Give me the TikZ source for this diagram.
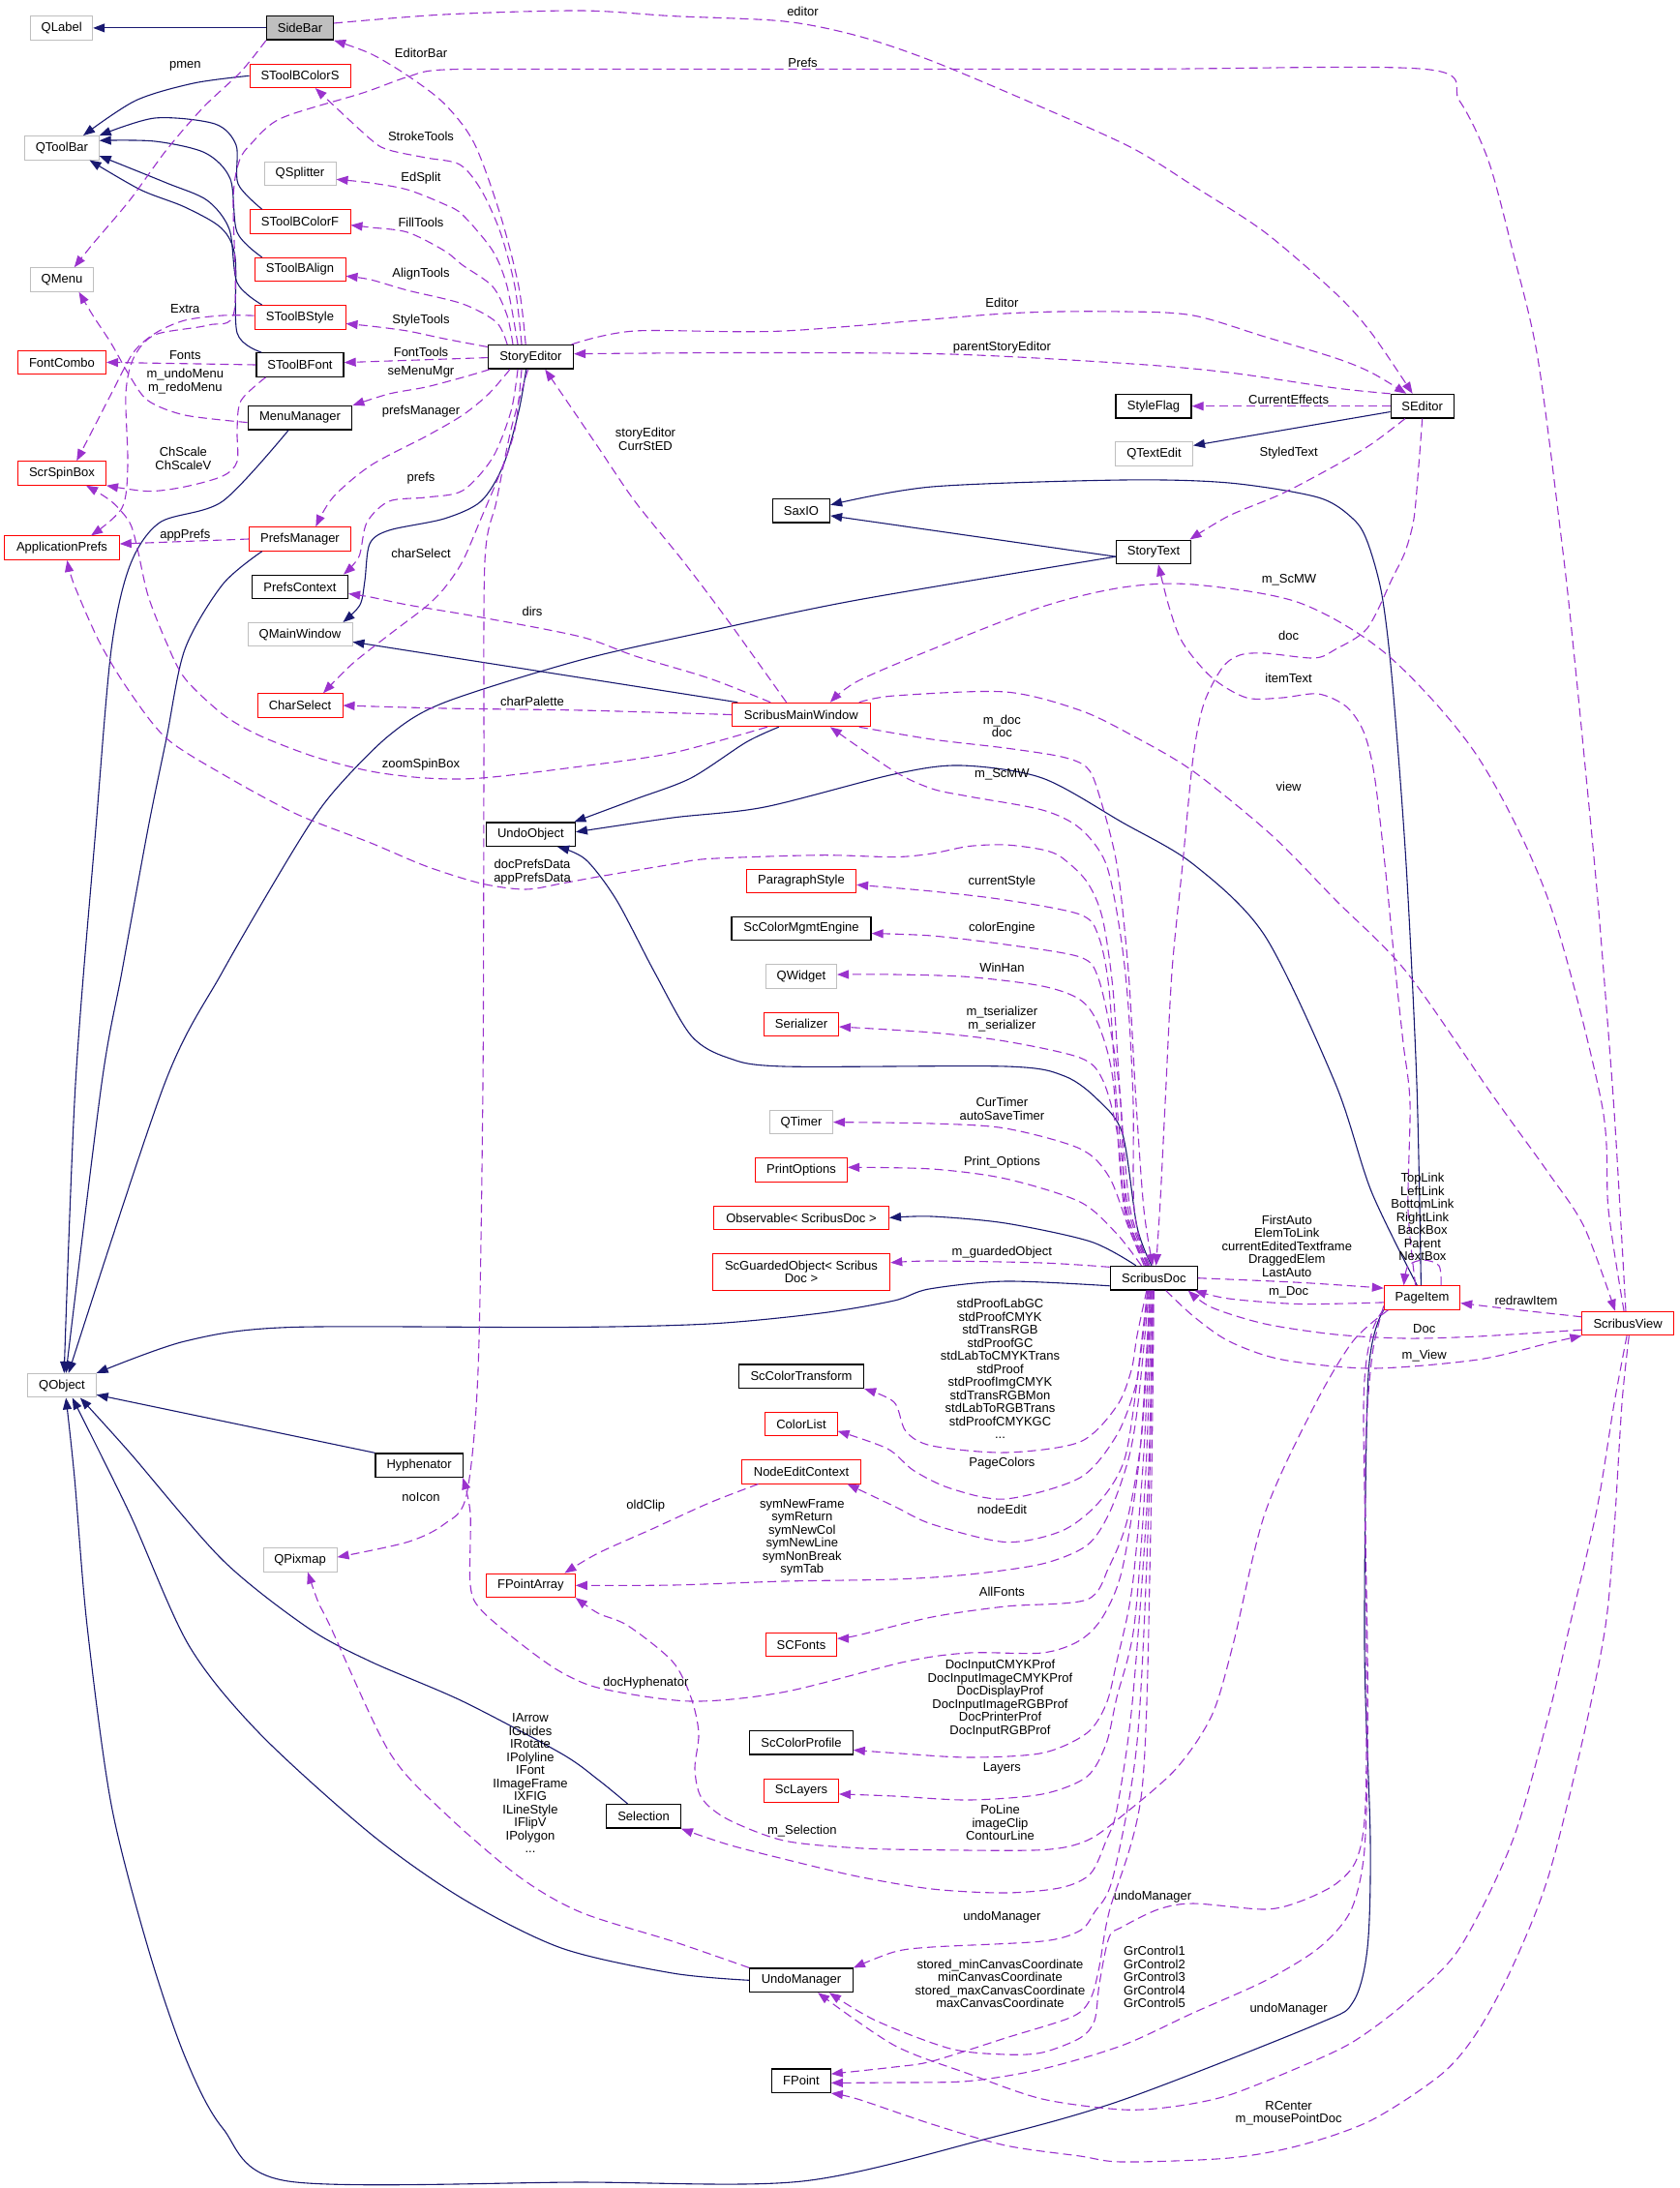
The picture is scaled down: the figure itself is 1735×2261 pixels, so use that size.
\documentclass[tikz,border=0pt]{standalone}
\usepackage{fontspec}
\setmainfont{Liberation Sans}
\usetikzlibrary{arrows.meta}
\definecolor{navyc}{HTML}{191970}
\definecolor{purpc}{HTML}{9A32CD}
\definecolor{boxred}{HTML}{FF0000}
\definecolor{boxgray}{HTML}{BFBFBF}
\newcommand{\dfont}{\fontsize{13pt}{13.5pt}\selectfont}
\tikzset{
  cls/.style={rectangle, draw, line width=1pt, minimum height=24.5pt, inner sep=0pt, font=\dfont},
  redc/.style={cls, draw=boxred},
  grayc/.style={cls, draw=boxgray},
  blkc/.style={cls, draw=black, line width=1.3pt},
  sidec/.style={cls, draw=black, fill=boxgray, line width=1.3pt},
  inh/.style={draw=navyc, line width=1.1pt, -{Triangle[length=12pt,width=9pt]}},
  dep/.style={draw=purpc, line width=1.1pt, dash pattern=on 9pt off 5pt, -{Triangle[length=12pt,width=9pt]}},
  lab/.style={font=\dfont, align=center, inner sep=0pt},
}
\begin{document}
\begin{tikzpicture}[x=1pt,y=-1pt]
\fill[white] (0,0) rectangle (1735,2261);
\path[use as bounding box] (0,0) rectangle (1735,2261);
% ---------------- nodes
\node[grayc, minimum width=64] (QLabel) at (63.7,28.9) {QLabel};
\node[sidec, minimum width=69] (SideBar) at (310,28.9) {SideBar};
\node[redc, minimum width=104] (SToolBColorS) at (310,78.3) {SToolBColorS};
\node[grayc, minimum width=76.6] (QToolBar) at (63.9,152.8) {QToolBar};
\node[grayc, minimum width=74] (QSplitter) at (310,179.4) {QSplitter};
\node[redc, minimum width=104] (SToolBColorF) at (310,229) {SToolBColorF};
\node[redc, minimum width=94] (SToolBAlign) at (310,278.6) {SToolBAlign};
\node[grayc, minimum width=65] (QMenu) at (64,289) {QMenu};
\node[redc, minimum width=94] (SToolBStyle) at (310,327.8) {SToolBStyle};
\node[redc, minimum width=91] (FontCombo) at (64,374.4) {FontCombo};
\node[blkc, minimum width=90] (SToolBFont) at (310,377) {SToolBFont};
\node[blkc, minimum width=88] (StoryEditor) at (548.4,368.8) {StoryEditor};
\node[blkc, minimum width=107.6] (MenuManager) at (310,431.8) {MenuManager};
\node[redc, minimum width=91] (ScrSpinBox) at (64,489) {ScrSpinBox};
\node[redc, minimum width=118.6] (ApplicationPrefs) at (64,566.2) {ApplicationPrefs};
\node[redc, minimum width=104.8] (PrefsManager) at (310,557) {PrefsManager};
\node[blkc, minimum width=99] (PrefsContext) at (310,606.5) {PrefsContext};
\node[grayc, minimum width=108] (QMainWindow) at (310,655.7) {QMainWindow};
\node[redc, minimum width=88] (CharSelect) at (310,729) {CharSelect};
\node[blkc, minimum width=91.8] (UndoObject) at (548.4,862.2) {UndoObject};
\node[blkc, minimum width=59] (SaxIO) at (828,527.6) {SaxIO};
\node[blkc, minimum width=78] (StyleFlag) at (1192,419.7) {StyleFlag};
\node[grayc, minimum width=80] (QTextEdit) at (1192.5,469) {QTextEdit};
\node[blkc, minimum width=65] (SEditor) at (1469.7,419.7) {SEditor};
\node[blkc, minimum width=77] (StoryText) at (1192,570.4) {StoryText};
\node[redc, minimum width=142.8] (ScribusMainWindow) at (827.8,738.5) {ScribusMainWindow};
\node[redc, minimum width=113.2] (ParagraphStyle) at (828,910.3) {ParagraphStyle};
\node[blkc, minimum width=144] (ScColorMgmtEngine) at (828,959.5) {ScColorMgmtEngine};
\node[grayc, minimum width=73] (QWidget) at (828,1009) {QWidget};
\node[redc, minimum width=77] (Serializer) at (828,1058.3) {Serializer};
\node[grayc, minimum width=65] (QTimer) at (828,1159.6) {QTimer};
\node[redc, minimum width=95] (PrintOptions) at (828,1208.8) {PrintOptions};
\node[redc, minimum width=181] (Observable) at (828,1258.4) {Observable< ScribusDoc >};
\node[redc, minimum width=183.5, minimum height=38, align=center] (ScGuarded) at (828,1314.5) {ScGuardedObject< Scribus\\Doc >};
\node[blkc, minimum width=90] (ScribusDoc) at (1192.3,1320.7) {ScribusDoc};
\node[blkc, minimum width=129] (ScColorTransform) at (828,1422.2) {ScColorTransform};
\node[redc, minimum width=74.2] (ColorList) at (828,1471.5) {ColorList};
\node[redc, minimum width=122.4] (NodeEditContext) at (828,1520.8) {NodeEditContext};
\node[redc, minimum width=91.8] (FPointArray) at (548.4,1638.3) {FPointArray};
\node[redc, minimum width=73] (SCFonts) at (828,1699.6) {SCFonts};
\node[grayc, minimum width=70.4] (QObject) at (64,1431.7) {QObject};
\node[blkc, minimum width=90.4] (Hyphenator) at (433.2,1514.2) {Hyphenator};
\node[grayc, minimum width=76] (QPixmap) at (310,1611.8) {QPixmap};
\node[blkc, minimum width=106.4] (ScColorProfile) at (828,1800.8) {ScColorProfile};
\node[redc, minimum width=77] (ScLayers) at (828,1850.5) {ScLayers};
\node[blkc, minimum width=76.5] (Selection) at (665,1876.8) {Selection};
\node[blkc, minimum width=106.4] (UndoManager) at (828,2046.3) {UndoManager};
\node[blkc, minimum width=60.4] (FPoint) at (828,2150.2) {FPoint};
\node[redc, minimum width=78.4] (PageItem) at (1469.5,1341) {PageItem};
\node[redc, minimum width=94.6] (ScribusView) at (1682.2,1367.5) {ScribusView};
% ---------------- inheritance
\draw[inh] (SideBar.west) -- (QLabel.east);
\draw[inh] plot[smooth] coordinates {(SToolBColorS.west) (200,86) (140,104) (QToolBar.30)};
\draw[inh] plot[smooth] coordinates {(SToolBColorF.162) (246,190) (244,150) (222,128) (160,122) (QToolBar.north east)};
\draw[inh] plot[smooth] coordinates {(SToolBAlign.162) (245,240) (238,185) (212,158) (160,146) (QToolBar.11)};
\draw[inh] plot[smooth] coordinates {(SToolBStyle.162) (245,292) (237,237) (214,207) (172,189) (QToolBar.-12)};
\draw[inh] plot[smooth] coordinates {(SToolBFont.162) (245,344) (243,266) (229,236) (191,214) (145,196) (QToolBar.-24)};
\draw[inh] plot[smooth] coordinates {(MenuManager.227) (230,518) (165,540) (134,585) (115,671) (99,856) (78,1120) (QObject.80)};
\draw[inh] plot[smooth] coordinates {(PrefsManager.198) (230,604) (191,671) (172,763) (153,856) (126,1004) (105,1120) (QObject.72)};
\draw[inh] plot[smooth] coordinates {(StoryText.187) (886,620) (733,652) (600,682) (459,726) (402,760) (344,819) (306,874) (230,1004) (170,1120) (QObject.62)};
\draw[inh] plot[smooth] coordinates {(ScribusDoc.190) (1039,1324) (960,1332) (924,1344) (848,1357) (733,1368) (580,1371.6) (298,1371.6) (191,1386) (QObject.north east)};
\draw[inh] (Hyphenator.north west) -- (QObject.-15);
\draw[inh] plot[smooth] coordinates {(Selection.142) (618,1839) (580,1812) (478,1758) (383,1717) (318,1682) (230,1612) (134,1501) (QObject.-34)};
\draw[inh] plot[smooth] coordinates {(UndoManager.west) (695,2039) (580,2013) (478,1962) (383,1895) (268,1791) (195,1700) (134,1564) (QObject.-50)};
\draw[inh] plot[smooth] coordinates {(PageItem.south west) (1414,1420) (1410,1700) (1416,1902) (1413,2013) (1398,2069) (1360,2092) (1160,2170) (1020,2210) (829,2254) (600,2255) (298,2254) (230,2199) (191,2125) (153,2013) (115,1865) (90,1680) (77,1527) (QObject.-72)};
\draw[inh] plot[smooth] coordinates {(ScribusDoc.100) (1175,1268) (1160,1172) (1135,1137) (1100,1112) (1040,1102) (810,1102) (752,1093) (714,1070) (676,1004) (637,930) (605,888) (UndoObject.-25)};
\draw[inh] plot[smooth] coordinates {(ScribusDoc.145) (1127,1283) (1039,1264) (963,1257) (Observable.east)};
\draw[inh] (ScribusMainWindow.169) -- (QMainWindow.-8);
\draw[inh] plot[smooth] coordinates {(StoryEditor.250) (536,425) (520,481) (497,518) (459,536) (402,548) (382,562) (377,600) (372,625) (QMainWindow.16)};
\draw[inh] plot[smooth] coordinates {(ScribusMainWindow.209) (771,767) (714,804) (656,826) (UndoObject.16)};
\draw[inh] plot[smooth] coordinates {(PageItem.112) (1417,1231) (1380,1120) (1307,967) (1233,893) (1160,850) (1077,804) (993,791) (924,800) (790,834) (695,845) (UndoObject.3)};
\draw[inh] (StoryText.187) -- (SaxIO.-10);
\draw[inh] plot[smooth] coordinates {(PageItem.95) (1464,1120) (1453,893) (1439,708) (1428,615) (1413,560) (1398,536) (1362,514) (1270,499) (1160,496) (963,503) (SaxIO.11)};
\draw[inh] (SEditor.190) -- (QTextEdit.12);
% ---------------- usage
\draw[dep] plot[smooth] coordinates {(SideBar.8) (459,15) (600,11) (695,16.6) (810,22) (886,37) (963,63) (1077,111) (1170,153) (1233,192) (1307,240) (1380,303) (1417,344) (SEditor.128)};
\draw[dep] plot[smooth] coordinates {(SideBar.south west) (249,74) (210,111) (172,155) (134,207) (96,252) (QMenu.45)};
\draw[dep] plot[smooth] coordinates {(StoryEditor.112) (536,296) (517,222) (490,148) (459,107) (421,78) (383,55.5) (SideBar.south east)};
\draw[dep] plot[smooth] coordinates {(ScribusView.100) (1673,1231) (1666,1120) (1651,930) (1637,782) (1626,671) (1615,570) (1589,370) (1563,259) (1538,166) (1508,104) (1472,71.4) (1160,71.4) (600,71.4) (459,72) (421,79.5) (375,96) (291,122) (260,148) (247,167) (241,207) (242,322) (215,336) (160,346) (138,370) (130,407) (132,481) (126,525) (ApplicationPrefs.23)};
\draw[dep] plot[smooth] coordinates {(SToolBStyle.178) (230,326) (191,331) (161,344) (138,364) (116,405) (100,436) (ScrSpinBox.40)};
\draw[dep] plot[smooth] coordinates {(StoryEditor.126) (532,296) (517,240) (497,196) (475,170) (440,163) (402,155) (383,144) (SToolBColorS.-39)};
\draw[dep] plot[smooth] coordinates {(StoryEditor.136) (524,296) (509,259) (478,222) (459,211) (421,196) (383,189) (QSplitter.-9)};
\draw[dep] plot[smooth] coordinates {(StoryEditor.145) (524,326) (509,296) (478,274) (459,259) (421,240) (383,235) (SToolBColorF.-4)};
\draw[dep] plot[smooth] coordinates {(StoryEditor.152) (513,333) (478,314) (421,300) (383,289) (SToolBAlign.-8)};
\draw[dep] plot[smooth] coordinates {(StoryEditor.167) (459,350) (421,342) (383,337) (SToolBStyle.-8)};
\draw[dep] (StoryEditor.181) -- (SToolBFont.3);
\draw[dep] plot[smooth] coordinates {(StoryEditor.197) (478,390) (440,400) (402,407) (MenuManager.north east)};
\draw[dep] plot[smooth] coordinates {(StoryEditor.211) (505,407) (478,429) (440,451) (383,481) (344,514) (PrefsManager.38)};
\draw[dep] plot[smooth] coordinates {(StoryEditor.224) (528,425) (509,473) (478,507) (440,514) (402,518) (379,540) (371,575) (PrefsContext.16)};
\draw[dep] plot[smooth] coordinates {(StoryEditor.234) (532,444) (517,488) (497,536) (478,580) (459,608) (440,627) (402,656) (364,686) (CharSelect.28)};
\draw[dep] plot[smooth] coordinates {(ScribusMainWindow.140) (752,641) (706,580) (656,518) (618,462) (584,412) (StoryEditor.-41)};
\draw[dep] plot[smooth] coordinates {(StoryEditor.17) (656,342) (810,342) (1039,324) (1160,322) (1233,326) (1307,348) (1380,370) (1417,385) (SEditor.142)};
\draw[dep] plot[smooth] coordinates {(SEditor.north west) (1380,401) (1270,385) (1170,376) (982,366) (771,364.5) (StoryEditor.4)};
\draw[dep] (SEditor.west) -- (StyleFlag.east);
\draw[dep] plot[smooth] coordinates {(SEditor.216) (1417,459) (1380,481) (1325,510) (1270,533) (StoryText.19)};
\draw[dep] plot[smooth] coordinates {(SEditor.south) (1466,481) (1461,536) (1452,570) (1439,597) (1413,649) (1380,671) (1358,680) (1307,675) (1281,677) (1263,690) (1244,727) (1233,782) (1222,893) (1211,1004) (1204,1140) (1199,1240) (ScribusDoc.80)};
\draw[dep] plot[smooth] coordinates {(PageItem.118) (1455,1250) (1457,1140) (1450,1078) (1442,1004) (1431,893) (1420,800) (1409,756) (1391,730) (1362,717) (1325,721) (1288,721) (1252,700) (1222,664) (1208,627) (StoryText.-69)};
\draw[dep] plot[smooth] coordinates {(ScribusView.108) (1662,1250) (1655,1140) (1600,930) (1527,782) (1435,678) (1343,623) (1233,604) (1160,607) (1077,627) (963,671) (886,704) (ScribusMainWindow.23)};
\draw[dep] plot[smooth] coordinates {(ScribusMainWindow.12) (924,719) (1039,715) (1116,734) (1170,760) (1233,797) (1314,863) (1380,930) (1453,1004) (1541,1130) (1600,1212) (1637,1268) (ScribusView.136)};
\draw[dep] plot[smooth] coordinates {(ScribusMainWindow.-12) (963,764) (1039,773) (1097,782) (1123,793) (1135,819) (1154,893) (1166,1004) (1174,1140) (1182,1250) (ScribusDoc.95)};
\draw[dep] plot[smooth] coordinates {(ScribusDoc.118) (1172,1250) (1171,1140) (1166,1041) (1158,967) (1143,893) (1116,856) (1077,837) (1001,823) (963,815) (924,797) (ScribusMainWindow.-23)};
\draw[dep] plot[smooth] coordinates {(ScribusDoc.108) (1168,1250) (1158,1140) (1150,1022) (1139,948) (1123,911) (1097,886) (1077,878) (1039,873) (1001,874.5) (963,882) (924,885.6) (848,883.7) (733,887.4) (695,893) (618,906) (580,913) (543,919) (497.5,913) (440,895) (383,871) (306,841) (230,800) (172,763) (134,715) (103,664) (76.5,604) (ApplicationPrefs.-67)};
\draw[dep] plot[smooth] coordinates {(ScribusDoc.112) (1166,1250) (1154,1140) (1146,1022) (1135,967) (1116,945) (1039,930) (963,921) (ParagraphStyle.-4)};
\draw[dep] plot[smooth] coordinates {(ScribusDoc.115) (1164,1250) (1158,1140) (1150,1078) (1135,1011) (1116,989) (1039,976) (963,967) (ScColorMgmtEngine.-4)};
\draw[dep] plot[smooth] coordinates {(ScribusDoc.121) (1162,1250) (1150,1115) (1135,1059) (1116,1033) (1077,1019) (1001,1009.5) (924,1007) (QWidget.3)};
\draw[dep] plot[smooth] coordinates {(ScribusDoc.124) (1163,1250) (1154,1168) (1139,1115) (1116,1093) (1039,1076) (963,1067) (Serializer.-4.5)};
\draw[dep] plot[smooth] coordinates {(ScribusDoc.128) (1166,1268) (1146,1216) (1116,1187) (1039,1166) (963,1161) (QTimer.east)};
\draw[dep] plot[smooth] coordinates {(ScribusDoc.135) (1154,1275) (1116,1242) (1039,1218) (963,1208) (PrintOptions.3)};
\draw[dep] plot[smooth] coordinates {(ScribusDoc.166) (1077,1305) (963,1303) (ScGuarded.6)};
\draw[dep] plot[smooth] coordinates {(ScribusDoc.-120) (1175,1380) (1169,1416) (1154,1453) (1116,1490) (1039,1501) (963,1494) (936,1479) (924,1449) (ScColorTransform.south east)};
\draw[dep] plot[smooth] coordinates {(ScribusDoc.-117) (1178,1400) (1173,1434) (1154,1483) (1116,1527) (1039,1549) (982,1538) (944,1519.5) (917,1497) (ColorList.-11)};
\draw[dep] plot[smooth] coordinates {(ScribusDoc.-114) (1176,1420) (1162,1508) (1135,1553) (1097,1582) (1039,1593.5) (963,1575) (924,1556.5) (NodeEditContext.-15)};
\draw[dep] plot[smooth] coordinates {(ScribusDoc.-111) (1176,1450) (1166,1508) (1146,1564) (1123,1597) (1077,1616) (1001,1627) (924,1632) (810,1634) (695,1638) (FPointArray.east)};
\draw[dep] plot[smooth] coordinates {(NodeEditContext.196) (733,1553) (676,1579) (618,1605) (FPointArray.20)};
\draw[dep] plot[smooth] coordinates {(PageItem.-160) (1398,1386) (1358,1453) (1307,1564) (1274,1700) (1252,1773) (1215,1828) (1160,1876) (1123,1902) (1077,1911.6) (963,1911.6) (886,1909.7) (810,1902) (752,1880) (725,1858) (718,1828) (722,1791) (714,1754) (695,1717) (649,1680) (618,1667) (FPointArray.south east)};
\draw[dep] plot[smooth] coordinates {(ScribusDoc.-108) (1178,1500) (1160,1620) (1140,1670) (1116,1695) (1077,1708) (1001,1708) (936,1717) (810,1748.5) (714,1758) (622,1745) (580,1728) (540,1700) (497.5,1664) (486,1638) (486,1564) (Hyphenator.-16)};
\draw[dep] plot[smooth] coordinates {(ScribusDoc.-105) (1180,1480) (1165,1570) (1146,1619) (1123,1653) (1039,1660) (963,1671) (886,1690) (SCFonts.10)};
\draw[dep] plot[smooth] coordinates {(ScribusDoc.-102) (1182,1500) (1170,1640) (1154,1717) (1143,1761) (1123,1791) (1077,1811.5) (1001,1816) (924,1811.5) (ScColorProfile.-8)};
\draw[dep] plot[smooth] coordinates {(ScribusDoc.-99) (1184,1520) (1172,1680) (1154,1754) (1143,1802) (1123,1836) (1077,1854) (1001,1860) (924,1856) (ScLayers.-5)};
\draw[dep] plot[smooth] coordinates {(ScribusDoc.-96) (1186,1540) (1170,1760) (1154,1870) (1143,1902) (1127,1936) (1097,1950.5) (1039,1956) (963,1952) (886,1939) (810,1921) (752,1906) (Selection.south east)};
\draw[dep] plot[smooth] coordinates {(ScribusDoc.-93) (1187,1560) (1175,1800) (1150,1940) (1131,1976) (1116,1995) (1077,2006) (963,2012) (924,2017) (UndoManager.north east)};
\draw[dep] plot[smooth] coordinates {(ScribusDoc.-90) (1189,1580) (1180,1850) (1146,1976) (1136,2032) (1127,2065) (1108,2084) (1039,2106) (963,2130) (924,2136) (FPoint.13)};
\draw[dep] plot[smooth] coordinates {(PageItem.-163) (1417,1379) (1409,1453) (1413,1700) (1413,1828) (1409,1921) (1395,1976) (1362,2013.5) (1307,2047) (1233,2080) (1160,2113.5) (1077,2138) (1001,2150.5) (924,2152) (FPoint.-4)};
\draw[dep] plot[smooth] coordinates {(PageItem.-168) (1418,1400) (1411,1500) (1412,1700) (1411,1865) (1402,1921) (1380,1947) (1343,1965) (1307,1973) (1233,1967) (1197,1973) (1160,1991) (1146,2002) (1136,2050) (1131,2088) (1116,2106) (1077,2121) (1039,2123) (982,2117) (905,2088) (UndoManager.-24)};
\draw[dep] plot[smooth] coordinates {(ScribusView.-95) (1668,1450) (1650,1560) (1622,1680) (1600,1773) (1563,1902) (1508,2013.5) (1453,2069) (1398,2110) (1343,2136) (1270,2165) (1215,2176.5) (1160,2180) (1077,2169) (1001,2143) (924,2113.5) (UndoManager.-37)};
\draw[dep] plot[smooth] coordinates {(ScribusView.-85) (1676,1450) (1668,1580) (1659,1680) (1637,1791) (1600,1939) (1563,2032) (1527,2099) (1490,2143) (1417,2191) (1343,2217) (1270,2230) (1160,2234) (1116,2228) (1039,2217) (963,2195) (886,2169) (FPoint.south east)};
\draw[dep] plot[smooth] coordinates {(ScribusDoc.east) (1343,1325.3) (PageItem.166)};
\draw[dep] plot[smooth] coordinates {(PageItem.187) (1343,1347.5) (1270,1342) (ScribusDoc.-17)};
\draw[dep] plot[smooth] coordinates {(ScribusView.188) (1527,1381) (1453,1383) (1380,1379) (1307,1368) (1252,1351) (ScribusDoc.-20)};
\draw[dep] plot[smooth] coordinates {(ScribusDoc.-46) (1233,1360) (1270,1386) (1325,1405) (1417,1414) (1527,1405) (1600,1388) (ScribusView.south west)};
\draw[dep] plot[smooth] coordinates {(ScribusView.172) (1563,1353) (PageItem.-8)};
\draw[dep] plot[smooth] coordinates {(PageItem.33) (1487,1308) (1471,1302) (1455,1308) (PageItem.146)};
\draw[dep] plot[smooth] coordinates {(StoryEditor.258) (528,444) (513,518) (501,580) (500,800) (499,1120) (494,1416) (482,1545) (459,1575) (421,1593.5) (QPixmap.4)};
\draw[dep] plot[smooth] coordinates {(UndoManager.north west) (695,2006) (600,1976) (536,1939) (459,1873) (402,1810) (341,1680) (329,1656) (QPixmap.-58)};
\draw[dep] (PrefsManager.west) -- (ApplicationPrefs.4);
\draw[dep] (SToolBFont.west) -- (FontCombo.east);
\draw[dep] plot[smooth] coordinates {(MenuManager.185) (191,429) (153,414) (134,388.5) (115,355) (96,326) (QMenu.-36)};
\draw[dep] plot[smooth] coordinates {(SToolBFont.200) (249,414) (245,444) (245,477) (230,492) (191,503) (153,507.6) (ScrSpinBox.south east)};
\draw[dep] plot[smooth] coordinates {(ScribusMainWindow.200) (695,778) (600,792) (497.5,804) (440,804) (383,797) (325,782) (268,760) (230,738) (191,701) (172,664) (153,615.5) (142,567) (134,540) (115,518) (ScrSpinBox.-27)};
\draw[dep] plot[smooth] coordinates {(ScribusMainWindow.158) (733,701) (656.5,678) (600,658) (497.5,638) (421,625) (383,617) (PrefsContext.-8)};
\draw[dep] plot[smooth] coordinates {(ScribusMainWindow.west) (600,734) (459,732) (CharSelect.east)};
% ---------------- labels
\node[lab] (L01) at (829.5,11.8) {editor};
\node[lab] (L02) at (191.3,68.4) {pmen};
\node[lab] (L03) at (435,54.8) {EditorBar};
\node[lab] (L04) at (829.5,64.7) {Prefs};
\node[lab] (L05) at (191.3,319.3) {Extra};
\node[lab] (L06) at (435,140.6) {StrokeTools};
\node[lab] (L07) at (435,184) {EdSplit};
\node[lab] (L08) at (435,230) {FillTools};
\node[lab] (L09) at (435,283.4) {AlignTools};
\node[lab] (L10) at (435,331.5) {StyleTools};
\node[lab] (L11) at (435,363.7) {FontTools};
\node[lab] (L12) at (435,384.8) {seMenuMgr};
\node[lab] (L13) at (435,424.7) {prefsManager};
\node[lab] (L14) at (435,494.6) {prefs};
\node[lab] (L15) at (435,571.8) {charSelect};
\node[lab] (L16) at (667,454) {storyEditor\\CurrStED};
\node[lab] (L17) at (1035.4,312.6) {Editor};
\node[lab] (L18) at (1035.4,358.9) {parentStoryEditor};
\node[lab] (L19) at (1331.6,412.5) {CurrentEffects};
\node[lab] (L20) at (1331.6,468) {StyledText};
\node[lab] (L21) at (1331.6,657) {doc};
\node[lab] (L22) at (1331.6,700.6) {itemText};
\node[lab] (L23) at (1332,599) {m\_ScMW};
\node[lab] (L24) at (1331.6,812.7) {view};
\node[lab] (L25) at (1035.4,750.5) {m\_doc\\doc};
\node[lab] (L26) at (1035.4,800.5) {m\_ScMW};
\node[lab] (L27) at (550,901) {docPrefsData\\appPrefsData};
\node[lab] (L28) at (1035.4,911.5) {currentStyle};
\node[lab] (L29) at (1035.4,959.6) {colorEngine};
\node[lab] (L30) at (1035.4,999.5) {WinHan};
\node[lab] (L31) at (1035.4,1053) {m\_tserializer\\m\_serializer};
\node[lab] (L32) at (1035.4,1146) {CurTimer\\autoSaveTimer};
\node[lab] (L33) at (1035.4,1200.7) {Print\_Options};
\node[lab] (L34) at (1035.4,1294.6) {m\_guardedObject};
\node[lab] (L35) at (1033.5,1414.5) {stdProofLabGC\\stdProofCMYK\\stdTransRGB\\stdProofGC\\stdLabToCMYKTrans\\stdProof\\stdProofImgCMYK\\stdTransRGBMon\\stdLabToRGBTrans\\stdProofCMYKGC\\...};
\node[lab] (L36) at (1035.4,1512.2) {PageColors};
\node[lab] (L37) at (1035.4,1559.5) {nodeEdit};
\node[lab] (L38) at (828.8,1589) {symNewFrame\\symReturn\\symNewCol\\symNewLine\\symNonBreak\\symTab};
\node[lab] (L39) at (667.3,1556.5) {oldClip};
\node[lab] (L40) at (1033.5,1883.4) {PoLine\\imageClip\\ContourLine};
\node[lab] (L41) at (667.3,1739.3) {docHyphenator};
\node[lab] (L42) at (1035.4,1644.6) {AllFonts};
\node[lab] (L43) at (1033.5,1755.3) {DocInputCMYKProf\\DocInputImageCMYKProf\\DocDisplayProf\\DocInputImageRGBProf\\DocPrinterProf\\DocInputRGBProf};
\node[lab] (L44) at (1035.4,1827.5) {Layers};
\node[lab] (L45) at (828.8,1892) {m\_Selection};
\node[lab] (L46) at (1035.4,1980.9) {undoManager};
\node[lab] (L47) at (1033.5,2050) {stored\_minCanvasCoordinate\\minCanvasCoordinate\\stored\_maxCanvasCoordinate\\maxCanvasCoordinate};
\node[lab] (L48) at (1193,2043.3) {GrControl1\\GrControl2\\GrControl3\\GrControl4\\GrControl5};
\node[lab] (L49) at (1191,1960.5) {undoManager};
\node[lab] (L50) at (1331.6,2075.7) {undoManager};
\node[lab] (L51) at (1331.6,2183.5) {RCenter\\m\_mousePointDoc};
\node[lab] (L52) at (1329.8,1287.4) {FirstAuto\\ElemToLink\\currentEditedTextframe\\DraggedElem\\LastAuto};
\node[lab] (L53) at (1331.6,1335.7) {m\_Doc};
\node[lab] (L54) at (1471.7,1372.7) {Doc};
\node[lab] (L55) at (1471.7,1401.2) {m\_View};
\node[lab] (L56) at (1577,1343.5) {redrawItem};
\node[lab] (L57) at (1469.9,1257.4) {TopLink\\LeftLink\\BottomLink\\RightLink\\BackBox\\Parent\\NextBox};
\node[lab] (L58) at (435,1546.6) {noIcon};
\node[lab] (L59) at (548,1843) {IArrow\\IGuides\\IRotate\\IPolyline\\IFont\\IImageFrame\\IXFIG\\ILineStyle\\IFlipV\\IPolygon\\...};
\node[lab] (L60) at (191.3,553) {appPrefs};
\node[lab] (L61) at (191.3,367.4) {Fonts};
\node[lab] (L62) at (191.3,394.2) {m\_undoMenu\\m\_redoMenu};
\node[lab] (L63) at (189.4,473.7) {ChScale\\ChScaleV};
\node[lab] (L64) at (435,790.5) {zoomSpinBox};
\node[lab] (L65) at (550,631.4) {dirs};
\node[lab] (L66) at (550,724.6) {charPalette};
\end{tikzpicture}
\end{document}
